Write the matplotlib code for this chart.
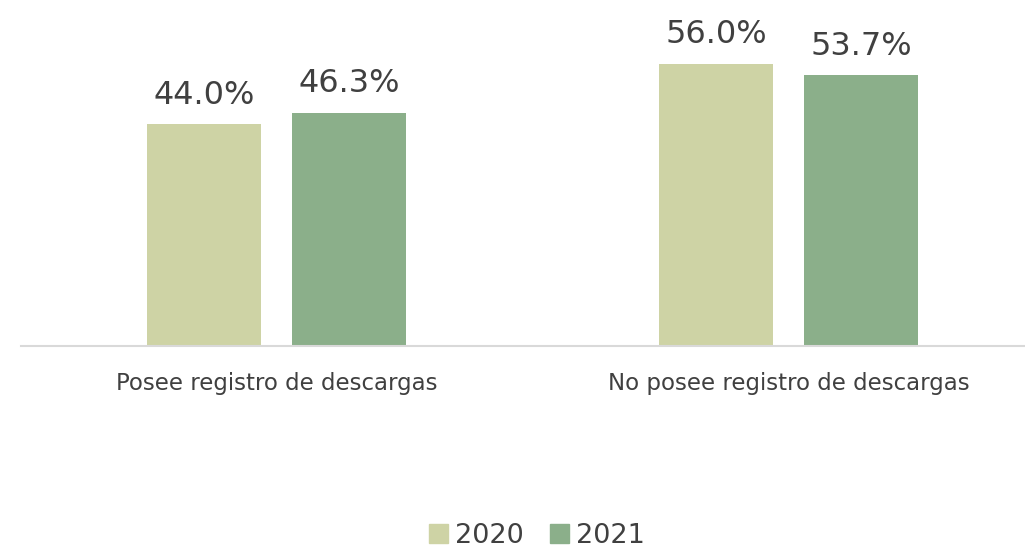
import numpy as np
import matplotlib as mpl
mpl.use('Agg')
import matplotlib.pyplot as plt
from matplotlib.patches import Patch

# ==== data ====
categories = ['Posee registro de descargas', 'No posee registro de descargas']
years = ['2020', '2021']
vals_2020 = [44.0, 56.0]
vals_2021 = [46.3, 53.7]

col_2020 = '#CED3A5'
col_2021 = '#8BAF8A'
txt_col = '#404040'

plt.rcParams['font.family'] = ['DejaVu Sans']

fig = plt.figure(figsize=(10.25, 5.53), dpi=100)
ax = fig.add_axes([20.5 / 1025, 207 / 553, 1024 / 1025, 302.4 / 553])

x = np.arange(len(categories))
w = 0.223
off = 0.1416
b1 = ax.bar(x - off, vals_2020, w, color=col_2020, label=years[0])
b2 = ax.bar(x + off, vals_2021, w, color=col_2021, label=years[1])

# value labels
for bars, vals in [(b1, vals_2020), (b2, vals_2021)]:
  for r, v in zip(bars, vals):
    ax.text(r.get_x() + r.get_width() / 2, v + 4.1, '%.1f%%' % v,
            ha='center', va='baseline', fontsize=23, color=txt_col)

ax.set_xlim(-0.5, 1.5)
ax.set_ylim(0, 60)
ax.set_yticks([])
ax.set_xticks(x)
ax.set_xticklabels(categories, fontsize=16.5, color=txt_col)
ax.tick_params(axis='x', length=0, pad=19)
for s in ['top', 'right', 'left']:
  ax.spines[s].set_visible(False)
ax.spines['bottom'].set_color('#D9D9D9')
ax.spines['bottom'].set_linewidth(1.5)

handles = [Patch(color=col_2020, label=years[0]), Patch(color=col_2021, label=years[1])]
fig.legend(handles=handles, loc='lower center', bbox_to_anchor=(537 / 1025, -0.036), ncol=2,
           frameon=False, fontsize=19.5, handlelength=0.7, handleheight=0.7,
           handletextpad=0.25, columnspacing=1.0, labelcolor=txt_col)

fig.savefig('out.png', dpi=100)
